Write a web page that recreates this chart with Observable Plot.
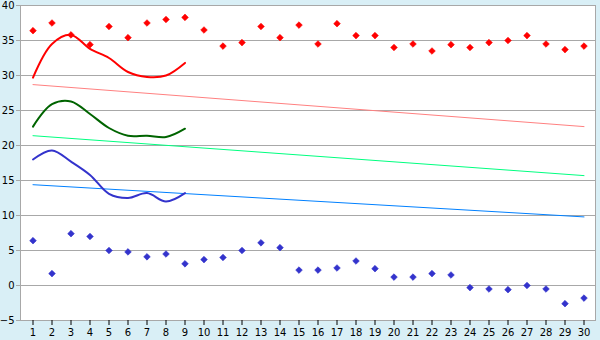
<!DOCTYPE html>
<html>
<head>
<meta charset="utf-8">
<script src="https://cdn.jsdelivr.net/npm/d3@7"></script>
<script src="https://cdn.jsdelivr.net/npm/@observablehq/plot@0.6"></script>
<style>
html,body{margin:0;padding:0;background:#d9eff6;}
#chart svg{display:block;}
</style>
</head>
<body>
<div id="chart"></div>
<script>
const days = d3.range(1, 31);
const yTicks = [-5, 0, 5, 10, 15, 20, 25, 30, 35, 40];

const redPoints = [36.4,37.5,35.8,34.4,37.0,35.4,37.5,38.0,38.3,36.5,34.2,34.7,37.0,35.4,37.2,34.5,37.4,35.7,35.7,34.0,34.5,33.5,34.4,34.0,34.7,35.0,35.7,34.5,33.7,34.2];
const bluePoints = [6.4,1.7,7.4,7.0,5.0,4.8,4.1,4.5,3.1,3.7,4.0,5.0,6.1,5.4,2.2,2.2,2.5,3.5,2.4,1.2,1.2,1.7,1.5,-0.3,-0.5,-0.6,0.0,-0.5,-2.6,-1.8];

const lineDays = d3.range(1, 10);
const redLine = [29.7,34.5,35.8,33.8,32.5,30.5,29.8,30.0,31.8];
const greenLine = [22.7,25.9,26.3,24.5,22.5,21.4,21.4,21.2,22.4];
const blueLine = [18.0,19.3,17.7,15.8,13.1,12.5,13.2,12.0,13.2];

const trendDays = [1, 30];
const redTrend = [28.7, 22.7];
const greenTrend = [21.4, 15.7];
const blueTrend = [14.4, 9.8];

const series = (xs, ys) => xs.map((x, i) => ({x, y: ys[i]}));

const chart = Plot.plot({
  width: 600,
  height: 340,
  marginLeft: 20,
  marginRight: 5,
  marginTop: 5,
  marginBottom: 20,
  style: {background: "#d9eff6", fontFamily: "DejaVu Sans", fontSize: "10px", color: "#000"},
  x: {type: "band", domain: days, padding: 0},
  y: {domain: [-5, 40]},
  marks: [
    Plot.frame({fill: "white", stroke: "none"}),
    Plot.ruleY(yTicks, {stroke: "#a8a8a8", strokeWidth: 1}),
    Plot.frame({stroke: "#a8a8a8"}),
    Plot.axisY(yTicks, {tickSize: 4, tickPadding: 2, stroke: "#a8a8a8", color: "#000", label: null, fontSize: 10}),
    Plot.axisX(days, {tickSize: 5, tickPadding: 3, stroke: "#000", label: null, fontSize: 10}),
    Plot.lineY(series(trendDays, redTrend), {x: "x", y: "y", stroke: "#ff8080", strokeWidth: 1}),
    Plot.lineY(series(trendDays, greenTrend), {x: "x", y: "y", stroke: "#00ff80", strokeWidth: 1}),
    Plot.lineY(series(trendDays, blueTrend), {x: "x", y: "y", stroke: "#0080ff", strokeWidth: 1}),
    Plot.lineY(series(lineDays, redLine), {x: "x", y: "y", stroke: "#ff0000", strokeWidth: 2, curve: "catmull-rom"}),
    Plot.lineY(series(lineDays, greenLine), {x: "x", y: "y", stroke: "#006400", strokeWidth: 2, curve: "catmull-rom"}),
    Plot.lineY(series(lineDays, blueLine), {x: "x", y: "y", stroke: "#3333cc", strokeWidth: 2, curve: "catmull-rom"}),
    Plot.dot(series(days, redPoints), {x: "x", y: "y", symbol: "diamond2", r: 3, fill: "#ff0000", stroke: "#ff0000", strokeWidth: 0.6}),
    Plot.dot(series(days, bluePoints), {x: "x", y: "y", symbol: "diamond2", r: 3, fill: "#3333cc", stroke: "#3333cc", strokeWidth: 0.6})
  ]
});
document.getElementById("chart").appendChild(chart);
</script>
</body>
</html>
